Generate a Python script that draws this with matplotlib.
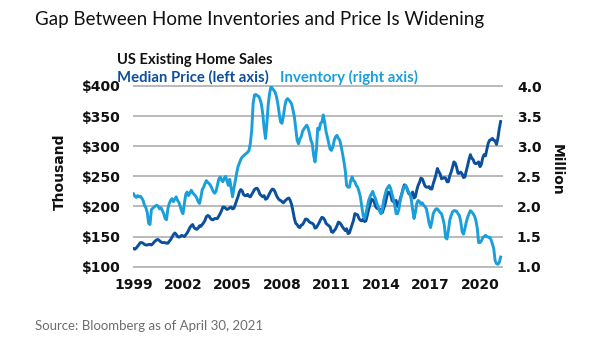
import matplotlib
matplotlib.use('Agg')
import matplotlib.pyplot as plt
import numpy as np

# US existing home sales, monthly Jan 1999 - Apr 2021
# median price, $ thousand (left axis)
price_k = [
    130, 129, 131, 134, 137, 140, 140, 139, 137, 136, 136, 137,   # 1999
    137, 136, 138, 141, 143, 145, 145, 143, 141, 140, 140, 140,   # 2000
    139, 139, 142, 145, 149, 153, 156, 154, 150, 149, 150, 152,   # 2001
    151, 150, 153, 156, 160, 165, 168, 170, 165, 163, 162, 164,   # 2002
    168, 167, 170, 173, 177, 183, 185, 184, 180, 178, 178, 180,   # 2003
    180, 180, 184, 188, 193, 199, 199, 197, 195, 196, 198, 199,   # 2004
    196, 197, 203, 210, 216, 224, 228, 226, 220, 218, 218, 220,   # 2005
    217, 216, 220, 224, 228, 230, 230, 226, 220, 218, 216, 218,   # 2006
    212, 213, 217, 222, 226, 229, 228, 224, 218, 214, 211, 210,   # 2007
    208, 206, 209, 211, 213, 214, 210, 203, 192, 180, 172, 170,   # 2008
    166, 165, 169, 170, 174, 179, 179, 177, 174, 173, 172, 170,   # 2009
    164, 165, 169, 173, 178, 182, 181, 178, 172, 170, 168, 166,   # 2010
    158, 157, 160, 163, 168, 174, 173, 170, 166, 163, 160, 163,   # 2011
    155, 156, 163, 170, 177, 188, 187, 186, 180, 177, 176, 179,   # 2012
    175, 176, 185, 195, 203, 212, 211, 208, 200, 197, 196, 196,   # 2013
    189, 190, 197, 204, 214, 224, 223, 220, 210, 208, 207, 210,   # 2014
    200, 203, 213, 220, 229, 236, 234, 229, 222, 220, 219, 224,   # 2015
    214, 216, 227, 235, 240, 247, 246, 240, 234, 232, 232, 233,   # 2016
    229, 229, 238, 245, 253, 263, 258, 254, 246, 247, 248, 247,   # 2017
    241, 241, 251, 257, 265, 274, 272, 265, 255, 255, 257, 254,   # 2018
    248, 249, 259, 268, 278, 286, 280, 278, 272, 271, 272, 274,   # 2019
    266, 270, 281, 286, 284, 295, 305, 310, 311, 313, 310, 309,   # 2020
    303, 313, 329, 341,                                           # 2021
]

# inventory, million homes (right axis)
inventory_m = [
    2.21, 2.17, 2.15, 2.18, 2.16, 2.17, 2.14, 2.10, 2.02, 1.98, 1.90, 1.72,   # 1999
    1.70, 1.95, 1.97, 1.99, 2.01, 2.02, 2.00, 1.96, 1.98, 1.93, 1.88, 1.80,   # 2000
    1.78, 1.96, 2.05, 2.10, 2.13, 2.08, 2.12, 2.16, 2.10, 2.07, 2.00, 1.92,   # 2001
    1.88, 2.05, 2.20, 2.24, 2.18, 2.22, 2.27, 2.23, 2.20, 2.18, 2.14, 2.08,   # 2002
    2.05, 2.15, 2.28, 2.32, 2.38, 2.43, 2.40, 2.38, 2.35, 2.30, 2.25, 2.22,   # 2003
    2.25, 2.35, 2.45, 2.49, 2.44, 2.41, 2.47, 2.50, 2.42, 2.35, 2.45, 2.30,   # 2004
    2.16, 2.30, 2.42, 2.55, 2.66, 2.72, 2.78, 2.82, 2.84, 2.86, 2.88, 2.90,   # 2005
    2.93, 3.05, 3.27, 3.71, 3.85, 3.86, 3.84, 3.83, 3.78, 3.70, 3.54, 3.30,   # 2006
    3.13, 3.38, 3.70, 3.88, 3.99, 3.96, 3.93, 3.90, 3.82, 3.70, 3.54, 3.40,   # 2007
    3.38, 3.50, 3.66, 3.76, 3.79, 3.77, 3.74, 3.70, 3.60, 3.49, 3.30, 3.10,   # 2008
    3.04, 3.12, 3.16, 3.25, 3.29, 3.32, 3.35, 3.30, 3.21, 3.10, 3.04, 2.85,   # 2009
    2.74, 2.93, 3.30, 3.27, 3.38, 3.40, 3.52, 3.40, 3.25, 3.15, 3.05, 2.95,   # 2010
    2.93, 2.99, 3.10, 3.16, 3.18, 3.13, 3.10, 3.00, 2.88, 2.75, 2.60, 2.35,   # 2011
    2.32, 2.32, 2.43, 2.49, 2.43, 2.41, 2.35, 2.32, 2.25, 2.16, 2.00, 1.85,   # 2012
    1.80, 1.88, 1.99, 2.10, 2.16, 2.21, 2.25, 2.18, 2.13, 2.05, 1.99, 1.92,   # 2013
    1.88, 1.95, 2.10, 2.20, 2.28, 2.32, 2.35, 2.30, 2.21, 2.12, 2.02, 1.88,   # 2014
    1.88, 1.95, 2.10, 2.20, 2.27, 2.33, 2.35, 2.30, 2.24, 2.21, 2.12, 1.95,   # 2015
    1.80, 1.90, 2.05, 2.10, 2.08, 2.04, 2.06, 2.02, 2.00, 1.96, 1.85, 1.72,   # 2016
    1.65, 1.75, 1.88, 1.93, 1.96, 1.96, 1.93, 1.90, 1.88, 1.80, 1.70, 1.48,   # 2017
    1.46, 1.60, 1.77, 1.85, 1.91, 1.93, 1.93, 1.92, 1.88, 1.85, 1.75, 1.58,   # 2018
    1.54, 1.63, 1.74, 1.82, 1.88, 1.93, 1.91, 1.88, 1.84, 1.77, 1.64, 1.40,   # 2019
    1.40, 1.43, 1.48, 1.50, 1.52, 1.50, 1.49, 1.49, 1.45, 1.38, 1.30, 1.10,   # 2020
    1.05, 1.04, 1.07, 1.16,                                                   # 2021
]

year_ticks = [1999, 2002, 2005, 2008, 2011, 2014, 2017, 2020]
price_ticks = [100, 150, 200, 250, 300, 350, 400]
inv_ticks = [1.0, 1.5, 2.0, 2.5, 3.0, 3.5, 4.0]

DARK = '#0c4f9d'
LIGHT = '#1b9fdb'
GRID = '#b4b4b4'
TXT = '#111111'

W, H = 605, 341
fig = plt.figure(figsize=(W / 100, H / 100), dpi=100)

def fx(px):
    return px / W

def fy(py):
    return 1 - py / H

# plot box in pixels
left, right, top, bottom = 133, 503, 86, 266.7
ax = fig.add_axes([fx(left), fy(bottom), fx(right) - fx(left), fy(top) - fy(bottom)])
ax2 = ax.twinx()

months = 1999 + np.arange(len(price_k)) / 12.0
x0 = 1999 + (left - 133.5) / 16.5
x1 = 1999 + (right - 133.5) / 16.5

ax.hlines(price_ticks, x0, x1, color=GRID, lw=1.3, clip_on=False, zorder=0)
ax.plot(months, price_k, color=DARK, lw=2.1, solid_joinstyle='round')
ax2.plot(months, inventory_m, color=LIGHT, lw=2.1, solid_joinstyle='round')

ax.set_xlim(x0, x1)
ax.set_ylim(100, 400)
ax2.set_ylim(1.0, 4.0)

tick_font = dict(family='DejaVu Sans', weight='bold', size=10)
ax.set_xticks(year_ticks)
ax.set_xticklabels([str(y) for y in year_ticks], fontdict=tick_font, color=TXT)
ax.set_yticks(price_ticks)
ax.set_yticklabels(['$%d' % v for v in price_ticks], fontdict=tick_font, color=TXT)
ax2.set_yticks(inv_ticks)
ax2.set_yticklabels(['%.1f' % v for v in inv_ticks], fontdict=tick_font, color=TXT)

ax.tick_params(axis='both', length=0)
ax.tick_params(axis='y', pad=9)
ax.tick_params(axis='x', pad=8)
ax2.tick_params(axis='y', length=0, pad=10)

for a in (ax, ax2):
    for s in a.spines.values():
        s.set_visible(False)

# axis titles
fig.text(fx(60), fy(172), 'Thousand', rotation=90, ha='center', va='center',
         family='DejaVu Sans', weight='bold', size=10, color=TXT)
fig.text(fx(557), fy(170), 'Million', rotation=270, ha='center', va='center',
         family='DejaVu Sans', weight='bold', size=10, color=TXT)

# headings
fig.text(fx(35), fy(19), 'Gap Between Home Inventories and Price Is Widening',
         ha='left', va='center', family='Lato', size=13.5, color=TXT)
fig.text(fx(117), fy(60), 'US Existing Home Sales', ha='left', va='center',
         family='Lato', weight='bold', size=10.6, color=TXT)
fig.text(fx(117), fy(77), 'Median Price (left axis)', ha='left', va='center',
         family='Lato', weight='bold', size=10.7, color=DARK)
fig.text(fx(280), fy(77), 'Inventory (right axis)', ha='left', va='center',
         family='Lato', weight='bold', size=10.8, color=LIGHT)

fig.text(fx(35), fy(326), 'Source: Bloomberg as of April 30, 2021', ha='left', va='center',
         family='Lato', size=9.5, color='#6e6e6e')

fig.savefig('out.png', dpi=100)
